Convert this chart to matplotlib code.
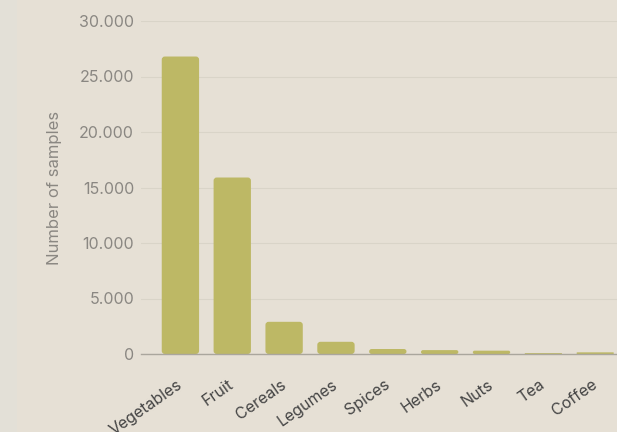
import matplotlib
matplotlib.use("Agg")
import matplotlib.pyplot as plt
import matplotlib.transforms as mtransforms
from matplotlib.patches import FancyBboxPatch, Rectangle
from matplotlib.ticker import FuncFormatter

categories = ["Vegetables", "Fruit", "Cereals", "Legumes", "Spices", "Herbs", "Nuts", "Tea", "Coffee"]
samples = [26800, 15900, 2900, 1100, 450, 350, 300, 80, 150]
yticks = [0, 5000, 10000, 15000, 20000, 25000, 30000]

bg = "#e6e0d5"
bar_color = "#bdb865"

plt.rcParams['font.family'] = ['Inter', 'DejaVu Sans']

W, H = 617, 432
fig = plt.figure(figsize=(W/100, H/100), dpi=100, facecolor=bg)
fig.patches.append(Rectangle((0, 0), 17/W, 1, transform=fig.transFigure,
                             facecolor="#e3e0d7", edgecolor='none', zorder=0))
ax_l, ax_b, ax_w, ax_h = 141, 354, 617 - 141, 354 - 21
ax = fig.add_axes([ax_l/W, 1 - ax_b/H, ax_w/W, ax_h/H])
ax.set_facecolor(bg)

xmin, xmax = -0.76, 8.42
ymin, ymax = 0, 30000
ax.set_ylim(ymin, ymax)
ax.set_xlim(xmin, xmax)

bars = ax.bar(range(len(categories)), samples, width=0.72, color=bar_color, zorder=3)
aspect = ((ymax - ymin) / ax_h) / ((xmax - xmin) / ax_w)
for b in bars:
    b.set_visible(False)
    h = b.get_height()
    r = min(0.06, 0.5 * h / aspect)
    fb = FancyBboxPatch((b.get_x(), b.get_y()), b.get_width(), h,
                        boxstyle=f"round,pad=0,rounding_size={r}",
                        mutation_aspect=aspect, facecolor=bar_color,
                        edgecolor='none', zorder=3)
    ax.add_patch(fb)

ax.set_yticks(yticks)
ax.yaxis.set_major_formatter(FuncFormatter(lambda v, p: f"{int(v):,}".replace(",", ".")))
ax.grid(axis='y', color='#d9d4c8', linewidth=0.8, zorder=0)
ax.tick_params(axis='y', length=0, pad=5, labelsize=11.5, labelcolor='#8a8782')
ax.tick_params(axis='x', length=0, pad=21, labelsize=11.5, labelcolor='#444444')
ax.set_xticks(range(len(categories)))
ax.set_xticklabels(categories, rotation=35, ha='right', va='center', rotation_mode='anchor')
offset = mtransforms.ScaledTranslation(0/100, 0, fig.dpi_scale_trans)
for lbl in ax.get_xticklabels():
    lbl.set_transform(lbl.get_transform() + offset)

for s in ['top', 'right', 'left']:
    ax.spines[s].set_visible(False)
ax.spines['bottom'].set_color('#aaa69d')
ax.spines['bottom'].set_linewidth(1.0)
ax.spines['bottom'].set_zorder(4)

ax.set_ylabel("Number of samples", color='#8a8782', fontsize=12, labelpad=12)

fig.savefig("out.png", dpi=100, facecolor=bg)
